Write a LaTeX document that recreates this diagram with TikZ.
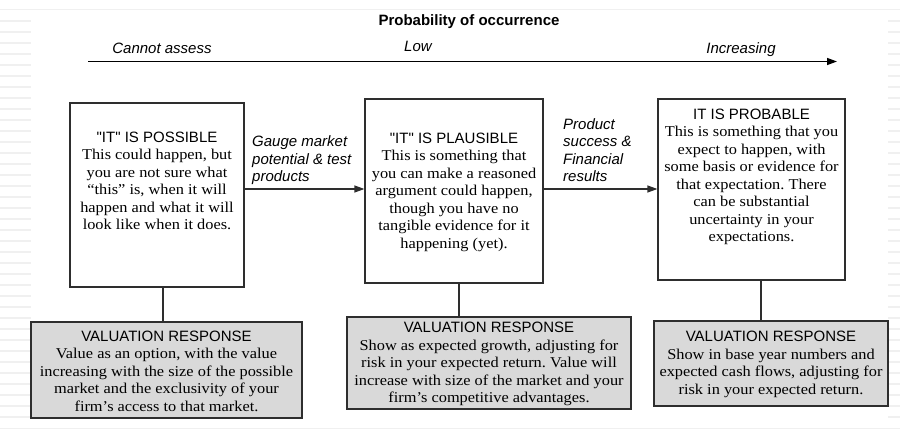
\documentclass[tikz,border=0pt]{standalone}
\usepackage{fontspec}
\setmainfont{Liberation Serif}
\newfontfamily\bodyfont[FakeStretch=1.09]{Liberation Serif}
\newfontfamily\headfont{Liberation Sans}
\usetikzlibrary{arrows.meta}
\definecolor{edge}{HTML}{2E2E2E}
\definecolor{shade}{HTML}{D9D9D9}
\definecolor{stripe}{HTML}{F0F0F0}
\frenchspacing
\tikzset{
  box/.style={draw=edge, line width=1.2pt, inner sep=0pt},
  stagebox/.style={box, fill=white},
  valbox/.style={box, fill=shade},
  body/.style={align=center, inner sep=0pt, font=\bodyfont\fontsize{15}{17.5}\selectfont},
  lab/.style={align=left, inner sep=0pt, font=\headfont\itshape\fontsize{15}{17.5}\selectfont},
  axislab/.style={inner sep=0pt, font=\headfont\itshape\fontsize{15}{18}\selectfont},
  link/.style={draw=edge, line width=1.2pt},
  arr/.style={link, -{Triangle[length=10pt,width=7pt]}},
  stripeline/.style={draw=stripe, line width=1.4pt},
}
\begin{document}
\begin{tikzpicture}[x=1pt, y=-1pt]
\useasboundingbox (0,0) rectangle (900,436);
% faint background stripes
\foreach \yy in {21,32,...,420} {
  \draw[stripeline] (0,\yy) -- (31,\yy);
  \draw[stripeline] (888,\yy) -- (900,\yy);
}
\draw[draw=stripe, line width=1pt] (0,10) -- (900,10);
\draw[draw=stripe, line width=1pt] (0,428) -- (900,428);

% title and axis
\node[inner sep=0pt, font=\headfont\bfseries\fontsize{15}{18}\selectfont] (title) at (469,22) {Probability of occurrence};
\node[axislab] (cannot) at (162,48) {Cannot assess};
\node[axislab] (low) at (418,46) {Low};
\node[axislab] (incr) at (741,50) {Increasing};
\coordinate (axA) at (88,61.5);
\coordinate (axB) at (837,61.5);
\draw[arr, line width=1.4pt, draw=black] (axA) -- (axB);

% stage boxes
\node[stagebox, minimum width=174pt, minimum height=184pt] (b1) at (157,195) {};
\node[stagebox, minimum width=178pt, minimum height=184pt] (b2) at (454,191) {};
\node[stagebox, minimum width=187pt, minimum height=181pt] (b3) at (751.5,189.5) {};

\node[body] (t1) at (157,181) {{\headfont "IT" IS POSSIBLE}\\This could happen, but\\you are not sure what\\“this” is, when it will\\happen and what it will\\look like when it does.};
\node[body] (t2) at (454,192) {{\headfont "IT" IS PLAUSIBLE}\\This is something that\\you can make a reasoned\\argument could happen,\\though you have no\\tangible evidence for it\\happening (yet).};
\node[body] (t3) at (751.5,177) {{\headfont IT IS PROBABLE}\\This is something that you\\expect to happen, with\\some basis or evidence for\\that expectation. There\\can be substantial\\uncertainty in your\\expectations.};

% valuation boxes
\node[valbox, minimum width=271pt, minimum height=96pt] (v1) at (166.5,370) {};
\node[valbox, minimum width=284pt, minimum height=92pt] (v2) at (489,363) {};
\node[valbox, minimum width=234pt, minimum height=85pt] (v3) at (771,363.5) {};

\node[body] (vt1) at (166.5,371) {{\headfont VALUATION RESPONSE}\\Value as an option, with the value\\increasing with the size of the possible\\market and the exclusivity of your\\firm’s access to that market.};
\node[body] (vt2) at (489,364) {{\headfont VALUATION RESPONSE}\\Show as expected growth, adjusting for\\risk in your expected return. Value will\\increase with size of the market and your\\firm’s competitive advantages.};
\node[body] (vt3) at (771,364.5) {{\headfont VALUATION RESPONSE}\\Show in base year numbers and\\expected cash flows, adjusting for\\risk in your expected return.};

% arrows between stages
\draw[arr] ([yshift=6pt]b1.east) -- ([yshift=6pt]b1.east -| b2.west);
\draw[arr] ([yshift=2pt]b2.east) -- ([yshift=2pt]b2.east -| b3.west);

\node[lab, anchor=west] (g1) at (252,160.5) {Gauge market\\potential \& test\\products};
\node[lab, anchor=west] (g2) at (563,150) {Product\\success \&\\Financial\\results};

% vertical connectors
\draw[link] ([xshift=6pt]b1.south) -- ([xshift=6pt]b1.south |- v1.north);
\draw[link] ([xshift=5pt]b2.south) -- ([xshift=5pt]b2.south |- v2.north);
\draw[link] ([xshift=9.5pt]b3.south) -- ([xshift=9.5pt]b3.south |- v3.north);
\end{tikzpicture}
\end{document}
